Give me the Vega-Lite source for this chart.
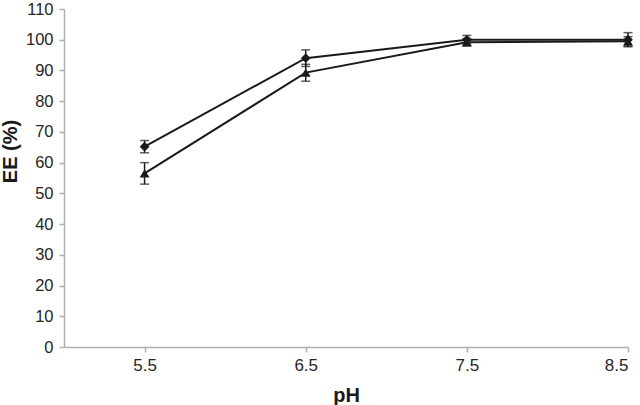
{
  "$schema": "https://vega.github.io/schema/vega-lite/v6.json",
  "width": 564,
  "height": 338,
  "autosize": {"type": "none"},
  "padding": {"left": 64, "top": 9, "right": 12, "bottom": 58},
  "background": "white",
  "config": {
    "view": {"stroke": null},
    "font": "Liberation Sans"
  },
  "data": {
    "values": [
      {"series": "A", "pH": 5.5, "ee": 65.2, "lo": 63.2, "hi": 67.2},
      {"series": "A", "pH": 6.5, "ee": 94.0, "lo": 91.3, "hi": 96.7},
      {"series": "A", "pH": 7.5, "ee": 100.0, "lo": 98.6, "hi": 101.4},
      {"series": "A", "pH": 8.5, "ee": 100.0, "lo": 97.7, "hi": 102.3},
      {"series": "B", "pH": 5.5, "ee": 56.5, "lo": 53.0, "hi": 60.0},
      {"series": "B", "pH": 6.5, "ee": 89.3, "lo": 86.5, "hi": 92.0},
      {"series": "B", "pH": 7.5, "ee": 99.2, "lo": 98.0, "hi": 100.4},
      {"series": "B", "pH": 8.5, "ee": 99.5, "lo": 98.0, "hi": 101.0}
    ]
  },
  "encoding": {
    "x": {
      "field": "pH",
      "type": "quantitative",
      "scale": {"domain": [5, 8.5], "nice": false, "zero": false},
      "axis": {
        "values": [5.5, 6.5, 7.5, 8.5],
        "format": ".1f",
        "title": "pH",
        "grid": false,
        "domainColor": "#b0b0b0",
        "tickColor": "#b0b0b0",
        "domainWidth": 1.5,
        "tickWidth": 1.5,
        "tickSize": 5,
        "labelFont": "Liberation Sans",
        "labelFontSize": 17,
        "labelColor": "#262626",
        "labelPadding": 5,
        "titleFont": "Liberation Sans",
        "titleFontSize": 20,
        "titleFontWeight": "bold",
        "titleColor": "#1a1a1a",
        "titleBaseline": "alphabetic",
        "titleY": 54
      }
    },
    "y": {
      "field": "ee",
      "type": "quantitative",
      "scale": {"domain": [0, 110], "nice": false, "zero": true},
      "axis": {
        "values": [0, 10, 20, 30, 40, 50, 60, 70, 80, 90, 100, 110],
        "title": "EE (%)",
        "grid": false,
        "labelOverlap": false,
        "domainColor": "#b0b0b0",
        "tickColor": "#b0b0b0",
        "domainWidth": 1.5,
        "tickWidth": 1.5,
        "tickSize": 5,
        "labelFont": "Liberation Sans",
        "labelFontSize": 16.5,
        "labelColor": "#262626",
        "labelPadding": 6,
        "titleFont": "Liberation Sans",
        "titleFontSize": 20,
        "titleFontWeight": "bold",
        "titleColor": "#1a1a1a",
        "titleX": -44,
        "titleY": 142
      }
    }
  },
  "layer": [
    {
      "mark": {"type": "rule", "color": "#1a1a1a", "strokeWidth": 1.5},
      "encoding": {
        "y": {"field": "lo", "type": "quantitative"},
        "y2": {"field": "hi"}
      }
    },
    {
      "mark": {"type": "tick", "orient": "horizontal", "color": "#1a1a1a", "size": 9, "thickness": 1.5},
      "encoding": {"y": {"field": "lo", "type": "quantitative"}}
    },
    {
      "mark": {"type": "tick", "orient": "horizontal", "color": "#1a1a1a", "size": 9, "thickness": 1.5},
      "encoding": {"y": {"field": "hi", "type": "quantitative"}}
    },
    {
      "mark": {"type": "line", "color": "#1a1a1a", "strokeWidth": 2},
      "encoding": {
        "detail": {"field": "series", "type": "nominal"}
      }
    },
    {
      "mark": {"type": "point", "filled": true, "opacity": 1, "color": "#1a1a1a", "size": 95},
      "encoding": {
        "shape": {
          "field": "series",
          "type": "nominal",
          "scale": {"domain": ["A", "B"], "range": ["diamond", "triangle-up"]},
          "legend": null
        }
      }
    }
  ]
}
